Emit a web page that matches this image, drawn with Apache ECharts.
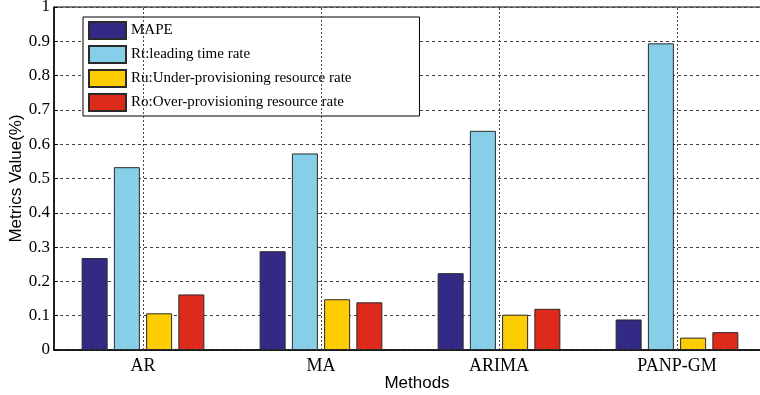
<!DOCTYPE html>
<html>
<head>
<meta charset="utf-8">
<style>
  html, body { margin: 0; padding: 0; background: #fff; }
  #chart { width: 760px; height: 395px; }
</style>
<script src="https://cdn.jsdelivr.net/npm/echarts@6/dist/echarts.min.js"></script>
</head>
<body>
<div id="chart"></div>
<script>
// Methods compared
const methods = ['AR', 'MA', 'ARIMA', 'PANP-GM'];

// Metric values per method
const mape = [0.268, 0.288, 0.224, 0.089];
const rt   = [0.533, 0.573, 0.639, 0.894];
const ru   = [0.107, 0.148, 0.103, 0.036];
const ro   = [0.162, 0.139, 0.120, 0.052];

const seriesNames = [
  'MAPE',
  'Rt:leading time rate',
  'Ru:Under-provisioning resource rate',
  'Ro:Over-provisioning resource rate'
];
const seriesColors = ['#332a85', '#87cfe8', '#fccd00', '#dd2a1b'];
const seriesValues = [mape, rt, ru, ro];

const serif = 'Liberation Serif';
const sans = 'Liberation Sans';

const chart = echarts.init(document.getElementById('chart'), null, { renderer: 'canvas' });

const series = seriesValues.map((vals, i) => ({
  name: seriesNames[i],
  type: 'bar',
  data: vals,
  barWidth: 26,
  barGap: '24%',
  itemStyle: { color: seriesColors[i], borderColor: '#2a2a2a', borderWidth: 1 },
  emphasis: { disabled: true }
}));

// dotted vertical guides through each method's tick (empty carrier series)
series.push({
  name: 'guides',
  type: 'line',
  data: [],
  silent: true,
  markLine: {
    silent: true,
    symbol: 'none',
    label: { show: false },
    lineStyle: { color: '#444', type: [2, 2], width: 1 },
    data: methods.map(m => ({ xAxis: m }))
  }
});

chart.setOption({
  animation: false,
  backgroundColor: '#fff',
  grid: {
    left: 54, top: 7, width: 712, height: 343,
    outerBoundsMode: 'none',
    containLabel: false,
    show: true, borderColor: '#000', borderWidth: 1
  },
  legend: {
    orient: 'vertical',
    left: 83, top: 17,
    padding: [4, 68, 4, 5],
    itemWidth: 37, itemHeight: 17, itemGap: 5,
    backgroundColor: '#fff',
    borderColor: '#000', borderWidth: 1,
    icon: 'rect',
    textStyle: { fontFamily: serif, fontSize: 15, lineHeight: 17, color: '#000' },
    data: seriesNames
  },
  xAxis: {
    type: 'category',
    data: methods,
    name: 'Methods',
    nameLocation: 'middle',
    nameGap: 25,
    nameMoveOverlap: false,
    nameTextStyle: { fontFamily: sans, fontSize: 17, color: '#000', padding: [0, 0, 0, 14] },
    axisLine: { lineStyle: { color: '#000', width: 1.5 } },
    axisTick: { show: false },
    axisLabel: { fontFamily: serif, fontSize: 18, color: '#000', margin: 7 },
    splitLine: { show: false }
  },
  yAxis: {
    type: 'value',
    min: 0, max: 1, interval: 0.1,
    name: 'Metrics Value(%)',
    nameLocation: 'middle',
    nameGap: 29,
    nameMoveOverlap: false,
    nameTextStyle: { fontFamily: sans, fontSize: 17, color: '#000' },
    axisLine: { show: true, lineStyle: { color: '#000', width: 1.5 } },
    axisTick: { show: true, inside: true, length: 4, lineStyle: { color: '#000' } },
    axisLabel: {
      fontFamily: serif, fontSize: 17, color: '#000', margin: 4,
      formatter: v => String(Math.round(v * 10) / 10)
    },
    splitLine: { show: true, lineStyle: { color: '#444', type: [3, 3], width: 1 } }
  },
  series: series
});
</script>
</body>
</html>
